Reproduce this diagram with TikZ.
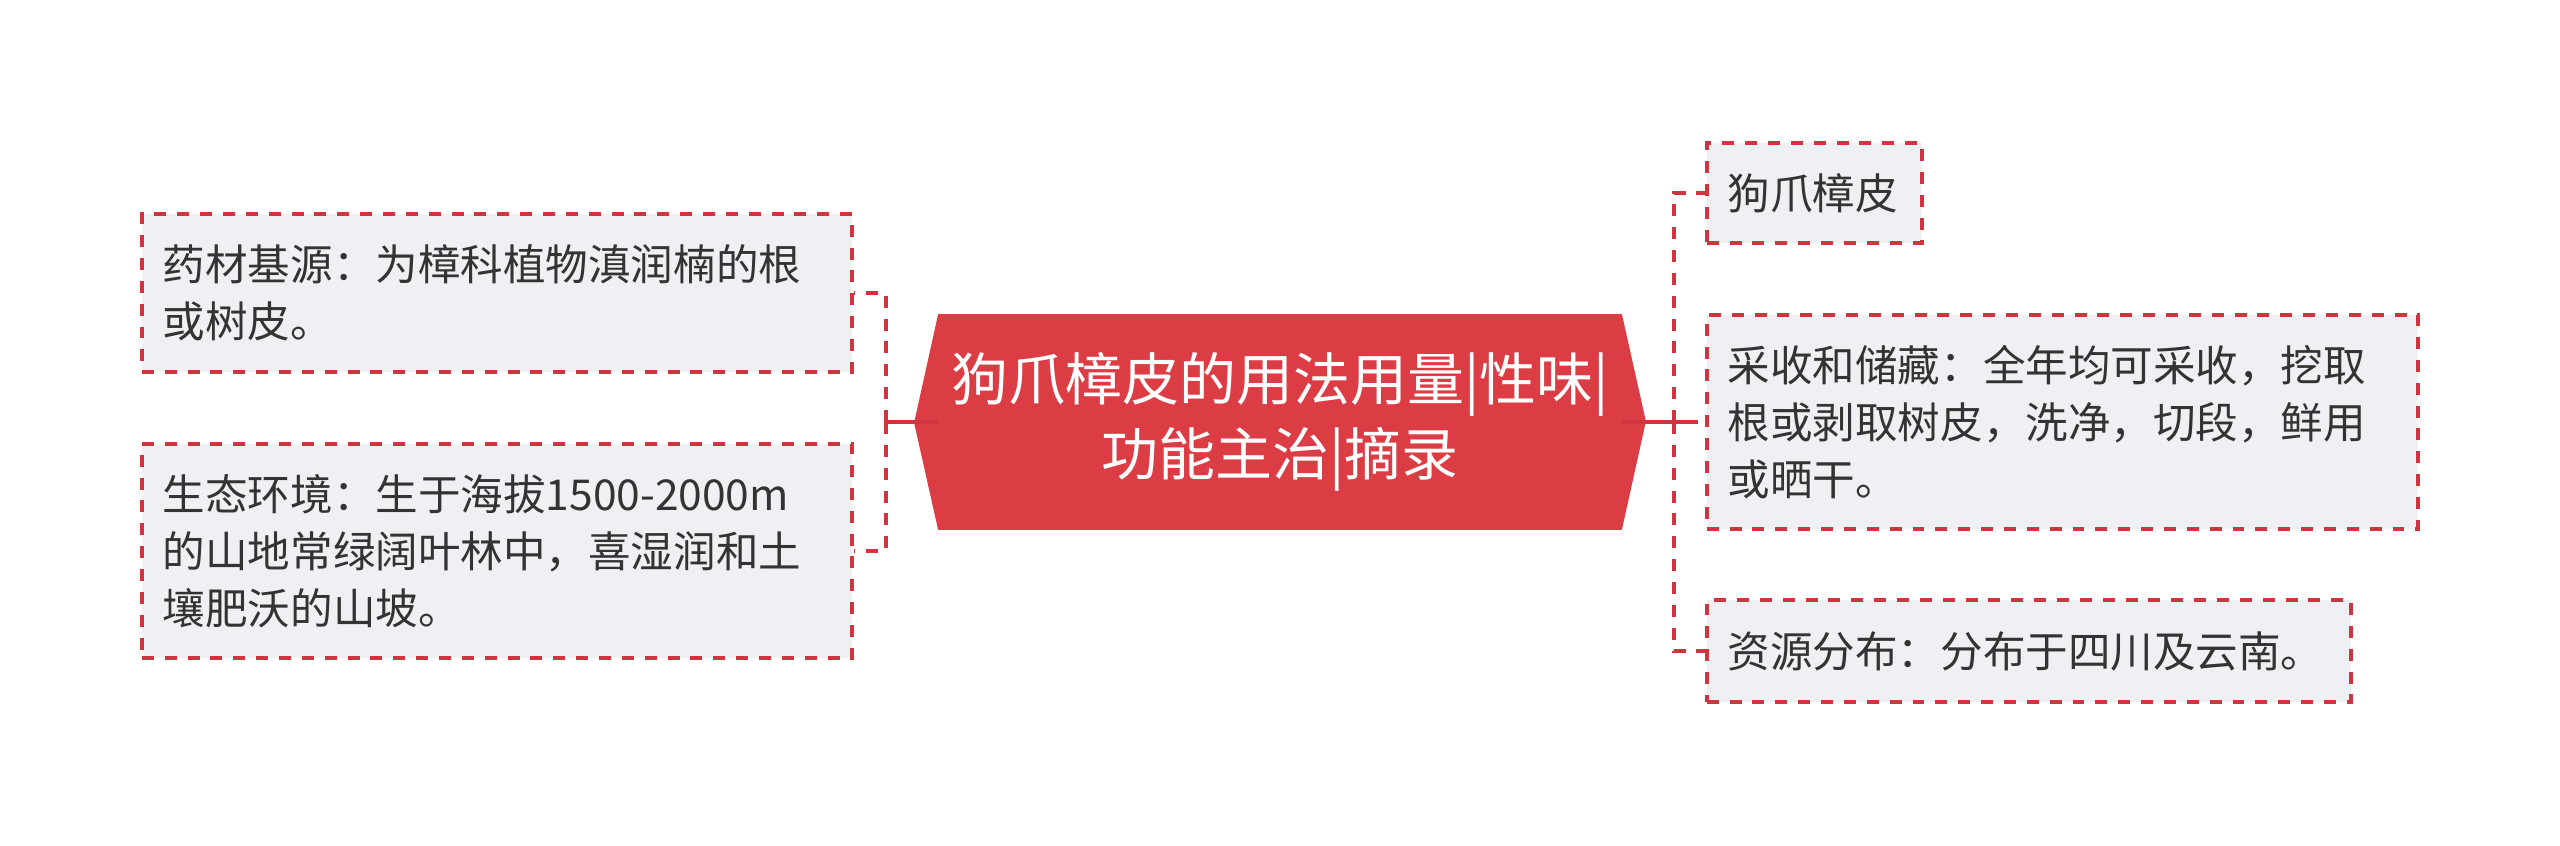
\documentclass[tikz,border=0pt]{standalone}
\usepackage{fontspec}
\setmainfont{Noto Sans CJK SC}
\usepackage{tikz}
\usetikzlibrary{positioning,backgrounds}

\definecolor{topicred}{RGB}{220,61,69}
\definecolor{linered}{RGB}{208,52,62}
\definecolor{leafgray}{RGB}{238,240,243}
\definecolor{inktext}{RGB}{51,51,51}
\newcommand{\topicfont}{\fontsize{16.2pt}{21.3pt}\selectfont}
\newcommand{\leaffont}{\fontsize{12.1pt}{16.2pt}\selectfont}

\tikzstyle{topic} = [rectangle, minimum width=6.82cm, minimum height=2.14cm, inner sep=0pt, text=white, align=center, font=\topicfont]
\tikzstyle{leaf} = [rectangle, draw=linered, line width=1pt, dash pattern=on 3.4pt off 3.1pt, fill=leafgray, text=inktext, align=left, inner xsep=0.21cm, inner ysep=0pt, font=\leaffont]
\tikzstyle{trunk} = [draw=linered, line width=1.1pt]
\tikzstyle{branch} = [draw=linered, line width=1pt, dash pattern=on 3.4pt off 3.1pt]

\begin{document}
\begin{tikzpicture}[x=0.01cm, y=0.01cm]
\useasboundingbox (0,0) rectangle (2560,845);

\node (title) [topic] at (1280,423) {狗爪樟皮的用法用量|性味|\\功能主治|摘录};
\begin{scope}[on background layer]
\fill[topicred] (title.north west) -- (title.north east) -- ++(24,-107) -- (title.south east)
  -- (title.south west) -- ++(-24,107) -- cycle;
\end{scope}

\node (source) [leaf, anchor=east, text width=6.68cm, minimum height=1.58cm] at (854,552) {药材基源：为樟科植物滇润楠的根\\或树皮。};
\node (habitat) [leaf, anchor=east, text width=6.68cm, minimum height=2.14cm] at (854,294) {生态环境：生于海拔1500-2000m\\的山地常绿阔叶林中，喜湿润和土\\壤肥沃的山坡。};

\node (herbname) [leaf, anchor=west, text width=1.73cm, minimum height=1.0cm] at (1705,652) {狗爪樟皮};
\node (harvest) [leaf, anchor=west, text width=6.69cm, minimum height=2.14cm] at (1705,423) {采收和储藏：全年均可采收，挖取\\根或剥取树皮，洗净，切段，鲜用\\或晒干。};
\node (spread) [leaf, anchor=west, text width=6.02cm, minimum height=1.02cm] at (1705,194) {资源分布：分布于四川及云南。};

\coordinate (ljoin) at (886,423);
\coordinate (rjoin) at (1674,423);
\coordinate (rtrunk) at (1686,423);

\draw [trunk] (title.west) -- (ljoin);
\draw [trunk] (ljoin) ++(0,-10) -- ++(0,20);
\draw [branch] (ljoin) |- (source.east);
\draw [branch] (ljoin) |- (habitat.east);

\draw [trunk] (title.east) -- (rtrunk);
\draw [trunk] (rjoin) ++(0,-10) -- ++(0,20);
\draw [branch] (rjoin) |- (herbname.west);
\draw [branch] (rtrunk) -- (harvest.west);
\draw [branch] (rjoin) |- (spread.west);
\end{tikzpicture}
\end{document}
